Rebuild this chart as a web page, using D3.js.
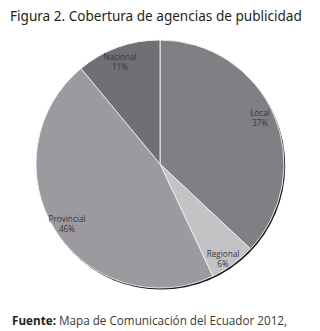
<!DOCTYPE html>
<html>
<head>
<meta charset="utf-8">
<script src="https://cdn.jsdelivr.net/npm/d3@7"></script>
<style>
  body { margin: 0; background: #fff; }
  svg { display: block; }
</style>
</head>
<body>
<script>
// chart values
const categories = ['Local', 'Regional', 'Provincial', 'Nacional']
const shares = [37, 6, 46, 11]
const sliceColors = ['#807f84', '#c3c3c6', '#9b9a9f', '#706f74']

const width = 320
const height = 331
const cx = 160
const cy = 164
const radius = 124

const svg = d3.select('body').append('svg')
  .attr('width', width)
  .attr('height', height)

// shrink/grow a text's font size so that it spans a given width
function fitWidth (sel, target) {
  const node = sel.node()
  const fs = +sel.attr('font-size')
  const w = node.getComputedTextLength()
  sel.attr('font-size', (fs * target / w).toFixed(2))
}

const title = svg.append('text')
  .attr('x', 10)
  .attr('y', 21)
  .attr('font-family', 'Noto Sans')
  .attr('font-size', 14)
  .attr('fill', '#231f20')
  .text('Figura 2. Cobertura de agencias de publicidad')
fitWidth(title, 292)

const data = categories.map((c, i) => ({ label: c, value: shares[i], color: sliceColors[i] }))

const pie = d3.pie().sort(null).value(d => d.value)
const arc = d3.arc().innerRadius(0).outerRadius(radius)

const g = svg.append('g')
  .attr('transform', `translate(${cx}, ${cy})`)

// slight drop shadow along the lower right edge
g.append('circle')
  .attr('cx', 1.2)
  .attr('cy', 1.6)
  .attr('r', radius)
  .attr('fill', '#1a1a1a')

const arcs = pie(data)

g.selectAll('path.slice')
  .data(arcs)
  .enter()
  .append('path')
  .attr('class', 'slice')
  .attr('d', arc)
  .attr('fill', d => d.data.color)
  .attr('stroke', '#f4f4f4')
  .attr('stroke-width', 0.9)

// label offsets tuned to the reference placement
const labelPos = {
  Local: [100, -48],
  Regional: [63, 93],
  Provincial: [-93, 58],
  Nacional: [-40, -104]
}

const labels = g.selectAll('g.lbl')
  .data(arcs)
  .enter()
  .append('g')
  .attr('class', 'lbl')
  .attr('transform', d => `translate(${labelPos[d.data.label]})`)
  .attr('font-family', 'Open Sans')
  .attr('font-size', 8.2)
  .attr('fill', '#383838')
  .attr('text-anchor', 'middle')

labels.append('text')
  .attr('y', 0)
  .text(d => d.data.label)

labels.append('text')
  .attr('y', 9.5)
  .text(d => d.data.value + '%')

const src = svg.append('text')
  .attr('x', 12)
  .attr('y', 325)
  .attr('font-family', 'Open Sans')
  .attr('font-size', 11)
  .attr('fill', '#3a3a3a')

src.append('tspan')
  .attr('font-weight', 'bold')
  .attr('fill', '#231f20')
  .text('Fuente:')

src.append('tspan')
  .text(' Mapa de Comunicación del Ecuador 2012,')
fitWidth(src, 275)
</script>
</body>
</html>
